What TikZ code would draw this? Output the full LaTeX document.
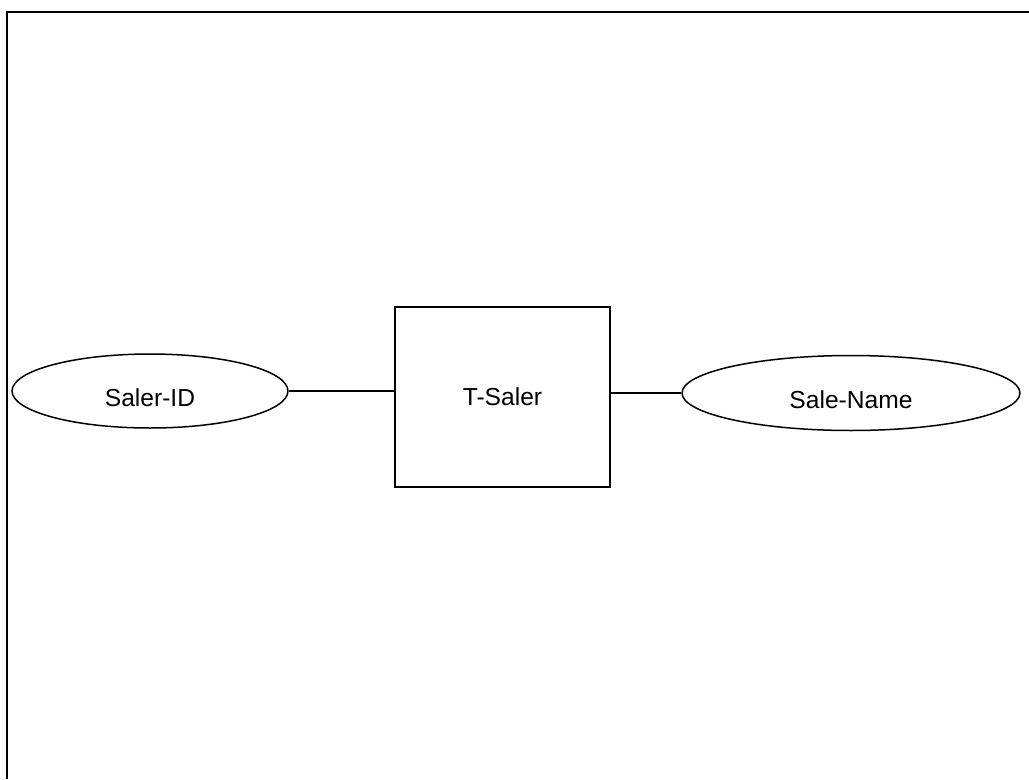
\documentclass[tikz,border=0pt]{standalone}
\usepackage{fontspec}
\setmainfont{Liberation Sans}
\usetikzlibrary{shapes.geometric}
\tikzset{
  attrib/.style={draw,ellipse,line width=0.3mm,inner sep=0pt,text height=18pt,text depth=0pt},
  entity/.style={draw,rectangle,line width=0.3mm,inner sep=0pt},
}
\begin{document}
\begin{tikzpicture}[x=0.02cm,y=-0.02cm,every node/.style={font=\fontsize{14}{16}\selectfont}]
		\useasboundingbox (0,0) rectangle (1029,779);
		% Frame
		\draw[line width=0.4mm] (7,779) -- (7,12) -- (1029,12);
		% Entity
		\node[entity,minimum width=4.3cm,minimum height=3.6cm] (tsaler) at (502.5,397) {T-Saler};
		% Attributes
		\node[attrib,minimum width=5.52cm,minimum height=1.48cm] (salerid) at (150,391) {Saler-ID};
		\node[attrib,minimum width=6.76cm,minimum height=1.5cm] (salename) at (851,393) {Sale-Name};
		% Links
		\draw[line width=0.3mm] (salerid.east) -- (salerid.east -| tsaler.west);
		\draw[line width=0.3mm] (tsaler.east |- salename.west) -- (salename.west);
		\end{tikzpicture}
\end{document}
